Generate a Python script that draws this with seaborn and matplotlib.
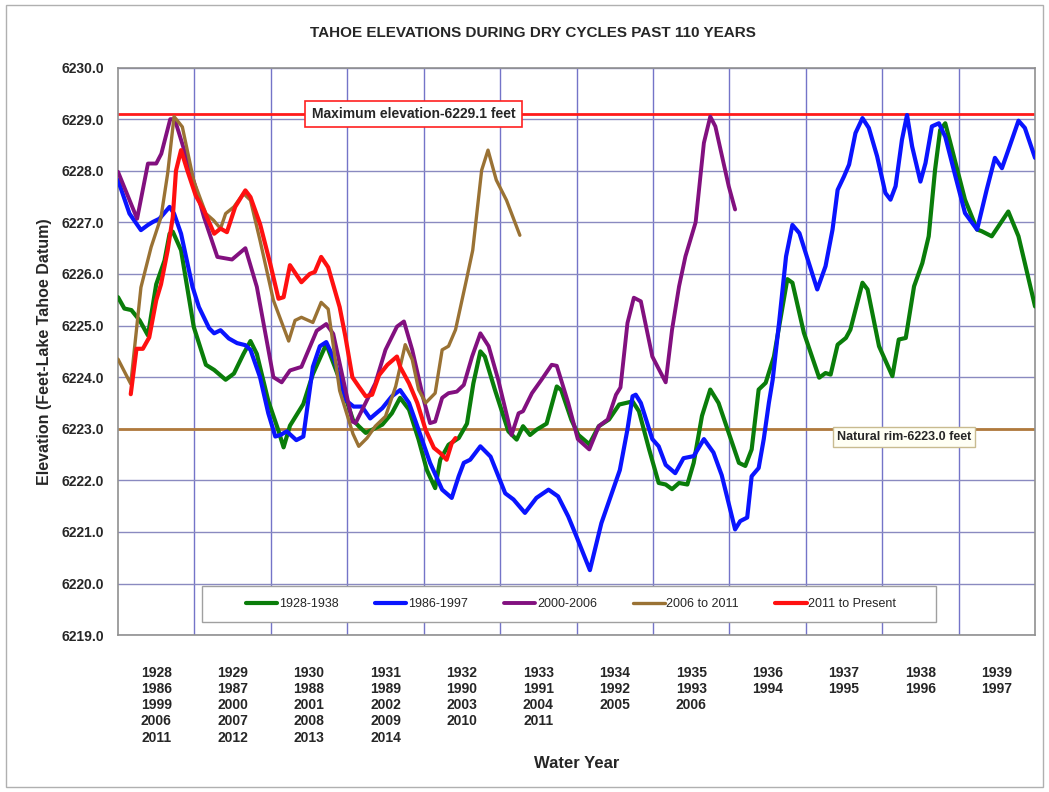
import matplotlib
matplotlib.use("Agg")
import matplotlib.pyplot as plt
import seaborn as sns
import pandas as pd
from matplotlib.patches import Rectangle

# --- data: month index from start of first water year, lake elevation (ft) ---
green_m = [0, 1, 2.1, 3.4, 4.7, 6, 7.3, 8.1, 8.6, 9.9, 11.9, 13.8, 15.1, 16.9, 18.2, 19.7, 20.8, 21.8,
           23.6, 25.2, 26, 27, 29.1, 30.6, 32.7, 34.8, 36.9, 37.8, 38.9, 41.5, 43, 44.3, 45.7, 47.2,
           48.5, 49.8, 50.6, 51.9, 53.5, 54.8, 55.8, 56.9, 57.6, 59.2, 61.3, 62.6, 63.6, 64.7, 65.7,
           67.3, 68.9, 69.6, 71.2, 72.3, 74, 75.5, 77.1, 78.7, 80.8, 81.8, 83.4, 84.9, 86, 87, 88.1,
           89.4, 90.4, 91.7, 93, 94.3, 95.9, 97.5, 98.5, 99.5, 100.6, 101.7, 103, 105.1, 105.9, 107.7,
           110.1, 111.1, 111.9, 113, 114.3, 115, 116.9, 117.7, 119.5, 121.6, 122.6, 123.7, 125, 126.3,
           127.3, 128.3, 129.1, 129.9, 131, 133, 134.9, 135.6, 137.2, 139.8, 141.4, 142.4, 144]
green_e = [6225.55, 6225.33, 6225.3, 6225.1, 6224.81, 6225.8, 6226.26, 6226.78, 6226.82, 6226.46,
           6224.97, 6224.24, 6224.14, 6223.95, 6224.07, 6224.45, 6224.7, 6224.45, 6223.54, 6222.96,
           6222.64, 6223.06, 6223.48, 6224.06, 6224.64, 6223.95, 6223.17, 6223.05, 6222.92, 6223.08,
           6223.3, 6223.6, 6223.37, 6222.79, 6222.2, 6221.85, 6222.4, 6222.69, 6222.82, 6223.1,
           6223.88, 6224.5, 6224.4, 6223.75, 6222.95, 6222.79, 6223.05, 6222.88, 6222.98, 6223.1,
           6223.82, 6223.75, 6223.17, 6222.88, 6222.7, 6223.05, 6223.18, 6223.47, 6223.53, 6223.34,
           6222.6, 6221.95, 6221.92, 6221.83, 6221.95, 6221.92, 6222.34, 6223.25, 6223.76, 6223.5,
           6222.92, 6222.34, 6222.28, 6222.6, 6223.76, 6223.89, 6224.4, 6225.9, 6225.83, 6224.86,
           6223.99, 6224.08, 6224.05, 6224.63, 6224.76, 6224.92, 6225.83, 6225.7, 6224.6, 6224.02,
           6224.73, 6224.76, 6225.76, 6226.21, 6226.73, 6228.02, 6228.79, 6228.92, 6228.4, 6227.44,
           6226.86, 6226.83, 6226.73, 6227.21, 6226.73, 6226.21, 6225.37]

blue_m = [0, 1.8, 3.6, 4.7, 5.5, 6.5, 8.1, 8.8, 9.9, 11.7, 12.7, 14.3, 15.1, 16.1, 17.4, 18.7, 20,
          20.8, 22.3, 23.6, 24.7, 25.5, 26.5, 28, 29.1, 30.6, 31.7, 32.7, 34, 35.8, 37, 38.3, 39.6,
          41.5, 43, 44.3, 45.7, 47.2, 49, 50.9, 52.4, 53.5, 54.3, 55.3, 56.9, 58.5, 60.8, 62.1, 63.9,
          65.7, 67.6, 69.1, 70.7, 72, 74.1, 75.9, 78.8, 80, 80.8, 81.3, 82.1, 83.9, 84.9, 86, 87.5,
          88.8, 90.4, 92, 93.5, 94.8, 96.9, 97.7, 98.8, 99.5, 100.6, 101.4, 102.2, 102.8, 103.8,
          104.9, 105.9, 107, 109.8, 111.1, 112.2, 113, 114, 114.8, 115.8, 116.9, 117.9, 119.2, 120.5,
          121.3, 122.1, 123.1, 123.9, 124.7, 126, 126.8, 127.8, 128.9, 129.9, 131.5, 133, 134.9,
          136.4, 137.7, 138.8, 139.8, 141.4, 142.4, 144]
blue_e = [6227.82, 6227.17, 6226.85, 6226.95, 6227.01, 6227.07, 6227.3, 6227.17, 6226.78, 6225.75,
          6225.36, 6224.95, 6224.85, 6224.91, 6224.75, 6224.66, 6224.62, 6224.53, 6224.0, 6223.3,
          6222.85, 6222.88, 6222.95, 6222.78, 6222.85, 6224.2, 6224.6, 6224.68, 6224.33, 6223.55,
          6223.43, 6223.43, 6223.2, 6223.4, 6223.63, 6223.75, 6223.5, 6222.98, 6222.34, 6221.82,
          6221.66, 6222.08, 6222.34, 6222.4, 6222.66, 6222.46, 6221.75, 6221.63, 6221.37, 6221.66,
          6221.82, 6221.69, 6221.3, 6220.91, 6220.26, 6221.17, 6222.2, 6222.99, 6223.63, 6223.66,
          6223.5, 6222.8, 6222.66, 6222.3, 6222.14, 6222.43, 6222.47, 6222.8, 6222.54, 6222.1,
          6221.05, 6221.21, 6221.28, 6222.08, 6222.24, 6222.8, 6223.5, 6223.95, 6225.05, 6226.34,
          6226.95, 6226.79, 6225.7, 6226.15, 6226.86, 6227.63, 6227.89, 6228.12, 6228.73, 6229.02,
          6228.83, 6228.28, 6227.57, 6227.44, 6227.7, 6228.6, 6229.08, 6228.47, 6227.79, 6228.15,
          6228.86, 6228.92, 6228.66, 6227.89, 6227.18, 6226.86, 6227.63, 6228.25, 6228.05, 6228.4,
          6228.97, 6228.83, 6228.25]

purple_m = [0, 3, 4.7, 6, 6.8, 8.2, 8.9, 9.9, 12, 13.5, 15.6, 17.9, 20, 21.8, 24.4, 25.7, 27, 28.8,
            31.2, 32.7, 33.8, 36.8, 37.3, 40.4, 42, 43.8, 44.9, 46.2, 48, 49, 49.8, 50.9, 51.9, 53.2,
            54.3, 55.6, 56.9, 58.2, 59.7, 61.8, 62.9, 63.6, 65, 66.5, 68.1, 68.9, 70.7, 72.2, 74,
            75.5, 76.9, 78.2, 78.9, 80, 81, 82.1, 83.9, 86, 87, 88.1, 89.1, 90.7, 92, 93, 93.8, 95.9,
            96.9]
purple_e = [6227.98, 6227.07, 6228.14, 6228.14, 6228.33, 6229.0, 6229.0, 6228.6, 6227.75, 6227.1,
            6226.33, 6226.28, 6226.5, 6225.75, 6224.0, 6223.9, 6224.13, 6224.2, 6224.9, 6225.03,
            6224.84, 6223.14, 6223.11, 6223.88, 6224.53, 6224.98, 6225.08, 6224.53, 6223.56, 6223.11,
            6223.14, 6223.6, 6223.69, 6223.72, 6223.85, 6224.4, 6224.85, 6224.6, 6223.95, 6222.88,
            6223.3, 6223.34, 6223.69, 6223.95, 6224.24, 6224.22, 6223.5, 6222.8, 6222.6, 6223.05,
            6223.18, 6223.66, 6223.8, 6225.05, 6225.54, 6225.47, 6224.4, 6223.9, 6224.92, 6225.76,
            6226.34, 6227.0, 6228.54, 6229.05, 6228.86, 6227.7, 6227.25]

brown_m = [0, 2, 3.6, 5.2, 6.75, 7.8, 8.8, 10.1, 11.9, 13.8, 15, 16.1, 16.9, 18.2, 19.7, 20.8, 22.3,
           24.4, 26.8, 27.8, 28.8, 30.6, 31.9, 33, 34.8, 36.9, 37.8, 39.1, 40.4, 42, 43.6, 44.3, 45.1,
           46.2, 47.2, 48.3, 49.8, 50.9, 51.9, 53, 54.7, 55.7, 57.1, 58.1, 59.4, 61, 63.1]
brown_e = [6224.35, 6223.87, 6225.74, 6226.52, 6227.1, 6227.95, 6229.05, 6228.85, 6227.8, 6227.17,
           6227.04, 6226.88, 6227.17, 6227.3, 6227.56, 6227.43, 6226.65, 6225.49, 6224.7, 6225.1,
           6225.16, 6225.06, 6225.45, 6225.32, 6223.74, 6222.9, 6222.66, 6222.82, 6223.05, 6223.24,
           6223.82, 6224.2, 6224.63, 6224.34, 6223.76, 6223.5, 6223.69, 6224.53, 6224.6, 6224.92,
           6225.88, 6226.46, 6228.01, 6228.4, 6227.82, 6227.43, 6226.75]

red_m = [2, 2.9, 3.9, 4.9, 6, 6.75, 7.8, 8.6, 9.1, 9.9, 10.9, 12.2, 13.5, 15.1, 16.1, 17.1, 18.4, 20,
         20.8, 22.3, 23.9, 25.2, 26, 27, 28.8, 30.1, 30.9, 31.9, 33, 34.8, 35.7, 36.8, 37.8, 38.9,
         39.9, 41, 42.3, 43.8, 44.3, 45.7, 47, 48.3, 49.6, 50.6, 51.6, 52.4, 53]
red_e = [6223.67, 6224.55, 6224.55, 6224.77, 6225.49, 6225.8, 6226.46, 6227.1, 6228.0, 6228.4, 6228.0,
         6227.52, 6227.23, 6226.78, 6226.88, 6226.81, 6227.3, 6227.62, 6227.49, 6226.97, 6226.2,
         6225.52, 6225.55, 6226.17, 6225.84, 6226.0, 6226.04, 6226.33, 6226.13, 6225.36, 6224.79,
         6224.0, 6223.82, 6223.63, 6223.66, 6224.04, 6224.24, 6224.4, 6224.2, 6223.88, 6223.5,
         6222.98, 6222.63, 6222.53, 6222.4, 6222.72, 6222.82]

series_names = ["1928-1938", "1986-1997", "2000-2006", "2006 to 2011", "2011 to Present"]
series_data = [(green_m, green_e), (blue_m, blue_e), (purple_m, purple_e),
               (brown_m, brown_e), (red_m, red_e)]
colors = ["#0a7d0a", "#0a14ff", "#82107f", "#9a7234", "#ff1010"]
widths = [3.0, 3.0, 2.8, 2.4, 3.0]

year_labels = ["1928\n1986\n1999\n2006\n2011", "1929\n1987\n2000\n2007\n2012",
               "1930\n1988\n2001\n2008\n2013", "1931\n1989\n2002\n2009\n2014",
               "1932\n1990\n2003\n2010", "1933\n1991\n2004\n2011", "1934\n1992\n2005",
               "1935\n1993\n2006", "1936\n1994", "1937\n1995", "1938\n1996", "1939\n1997"]

max_elev = 6229.1
rim_elev = 6223.0

# --- plot ---
sns.set_theme(style="white")
plt.rcParams["font.family"] = ["Liberation Sans", "DejaVu Sans"]

fig = plt.figure(figsize=(10.49, 7.92), dpi=100)
ax = fig.add_axes([0.1125, 0.198, 0.8742, 0.7167])

fig.patches.append(Rectangle((0.006, 0.006), 0.988, 0.988, transform=fig.transFigure,
                             fill=False, edgecolor="#b0b0b0", linewidth=1))

for name, (m, e), c, w in zip(series_names, series_data, colors, widths):
    df = pd.DataFrame({"month": m, "elev": e})
    sns.lineplot(data=df, x="month", y="elev", color=c, linewidth=w, label=name,
                 estimator=None, sort=False, ax=ax, zorder=3)

ax.axhline(max_elev, color="#ff1a1a", linewidth=2, zorder=2)
ax.axhline(rim_elev, color="#b07a3c", linewidth=2, zorder=2)

ax.text(46.4, max_elev, "Maximum elevation-6229.1 feet", ha="center", va="center",
        fontsize=10, fontweight="bold", zorder=5,
        bbox=dict(boxstyle="square,pad=0.45", facecolor="white", edgecolor="#ff2020", linewidth=1.2))
ax.text(123.4, 6222.84, "Natural rim-6223.0 feet", ha="center", va="center",
        fontsize=9, fontweight="bold", zorder=5,
        bbox=dict(boxstyle="square,pad=0.3", facecolor="#fffff4", edgecolor="#c8bb90", linewidth=1))

ax.set_xlim(0, 144)
ax.set_ylim(6219, 6230)
ax.set_yticks(range(6219, 6231))
ax.set_yticklabels([f"{v:.1f}" for v in range(6219, 6231)], fontsize=10, fontweight="bold")
ax.set_xticks([6 + 12 * i for i in range(12)])
ax.set_xticklabels(year_labels, fontsize=10, fontweight="bold", linespacing=1.2)
ax.set_xticks(range(12, 144, 12), minor=True)
ax.tick_params(axis="x", which="both", length=0, pad=22)
ax.tick_params(axis="y", length=0, pad=10)

ax.grid(axis="y", which="major", color="#8a8ac0", linewidth=1)
ax.grid(axis="x", which="minor", color="#7474c8", linewidth=1)
ax.grid(axis="x", which="major", visible=False)
for s in ax.spines.values():
    s.set_color("#909090")
    s.set_linewidth(1.2)

ax.set_xlabel("Water Year", fontsize=12, fontweight="bold", labelpad=8)
ax.set_ylabel("Elevation (Feet-Lake Tahoe Datum)", fontsize=11.5, fontweight="bold", labelpad=7)
fig.text(0.508, 0.958, "TAHOE ELEVATIONS DURING DRY CYCLES PAST 110 YEARS", ha="center",
         va="center", fontsize=11, fontweight="bold")

# legend box drawn separately so the entries can sit inset like the original
ax.add_patch(Rectangle((0.0916, 0.023), 0.80, 0.064, transform=ax.transAxes, facecolor="white",
                       edgecolor="#a0a0a0", linewidth=1, zorder=6))
leg = ax.legend(loc="center", bbox_to_anchor=(0.494, 0.055), ncol=5, fontsize=9, frameon=False,
                handlelength=2.5, handletextpad=0.15, columnspacing=2.9, borderaxespad=0)
leg.set_zorder(7)

fig.savefig("out.png", dpi=100)
